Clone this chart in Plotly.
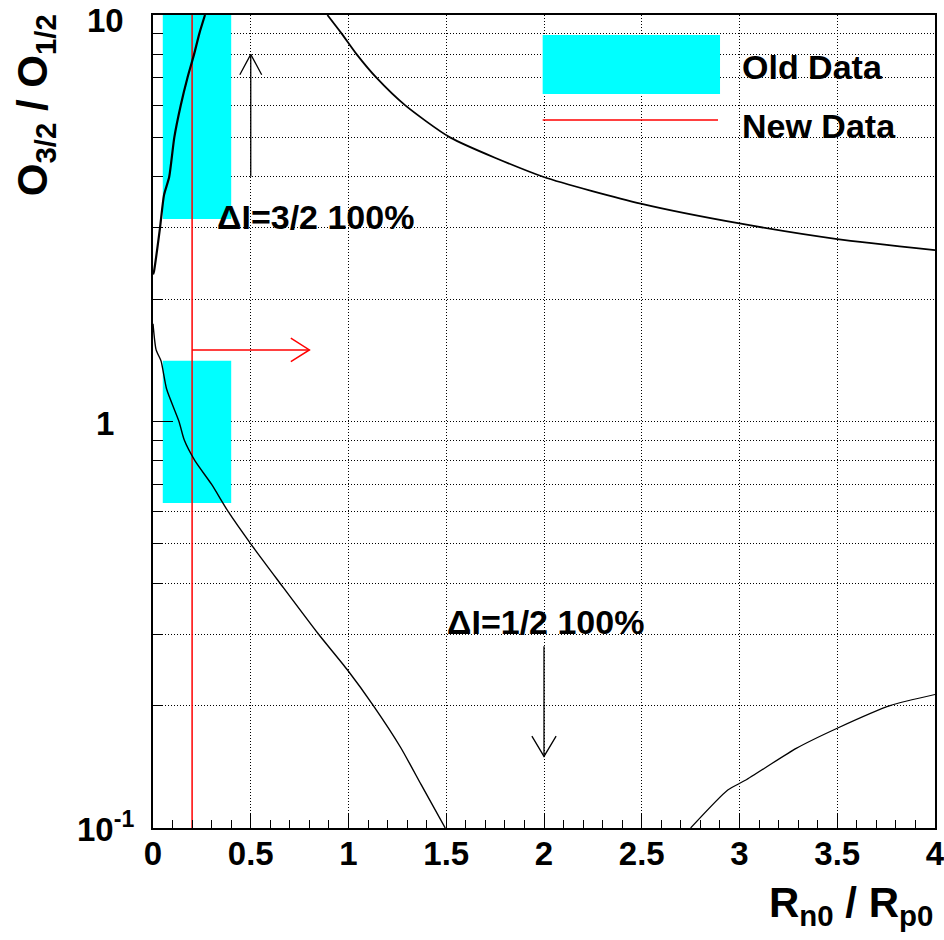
import numpy as np
import plotly.graph_objects as go

# ---------------- data ----------------
# upper-left branch of the curve
c1_x = [0.0, 0.005, 0.036, 0.056, 0.083, 0.109, 0.142, 0.176, 0.21, 0.237, 0.266]
c1_y = [2.3, 2.34, 3.0, 3.6, 4.0, 5.0, 6.0, 7.0, 8.0, 9.0, 10.0]
# upper-right branch
c2_x = [0.892, 0.965, 1.042, 1.144, 1.289, 1.519, 1.995, 2.5, 3.0, 3.5, 4.0]
c2_y = [10.0, 9.0, 8.0, 7.0, 6.0, 5.0, 4.0, 3.43, 3.07, 2.81, 2.64]
# lower-left branch
c3_x = [0.0, 0.016, 0.041, 0.07, 0.133, 0.16, 0.215, 0.30, 0.385, 0.5, 0.65,
        0.846, 0.994, 1.127, 1.266, 1.371, 1.495]
c3_y = [1.74, 1.5, 1.41, 1.2, 1.0, 0.9, 0.8, 0.7, 0.6, 0.5, 0.4,
        0.3, 0.245, 0.2, 0.158, 0.128, 0.1]
# lower-right branch
c4_x = [2.75, 2.94, 3.03, 3.29, 3.50, 3.77, 4.0]
c4_y = [0.1, 0.124, 0.131, 0.157, 0.176, 0.200, 0.213]

# old data boxes (x0, x1, y0, y1)
old_x0 = [0.05, 0.05]
old_x1 = [0.40, 0.40]
old_y0 = [3.15, 0.63]
old_y1 = [10.0, 1.41]

# new data: vertical line at x and lower-limit arrow
new_x = 0.2
new_y_range = [0.1, 10.0]
new_arrow_x = [0.2, 0.80]
new_arrow_y = 1.5

# Delta I arrows
arrow32_x = 0.5
arrow32_y = [4.0, 8.0]
arrow12_x = 2.0
arrow12_y = [0.28, 0.15]

x_ticks = [0, 0.5, 1, 1.5, 2, 2.5, 3, 3.5, 4]
x_ticktext = ["0", "0.5", "1", "1.5", "2", "2.5", "3", "3.5", "4"]
y_ticks = [0.1, 1, 10]
y_ticktext = ["10<sup>-1</sup>", "1", "10"]
y_minor = [0.2, 0.3, 0.4, 0.5, 0.6, 0.7, 0.8, 0.9, 2, 3, 4, 5, 6, 7, 8, 9]

FONT = "Liberation Sans"
CYAN = "#00FFFF"
RED = "#FF0000"
Y_LOG_RANGE = [-1, 1]
PLOT_H = 813  # px height of the plotting area

fig = go.Figure()

# old data boxes
for x0, x1, y0, y1 in zip(old_x0, old_x1, old_y0, old_y1):
    fig.add_trace(go.Scatter(x=[x0, x1, x1, x0, x0], y=[y0, y0, y1, y1, y0],
                             mode="lines", fill="toself", fillcolor=CYAN,
                             line=dict(color=CYAN, width=0), hoverinfo="skip",
                             showlegend=False))

# new data line + arrow
fig.add_trace(go.Scatter(x=[new_x, new_x], y=new_y_range, mode="lines",
                         line=dict(color=RED, width=1.5), showlegend=False))
hx = 0.095
hy = 10 ** 0.029
tip = new_arrow_x[1]
fig.add_trace(go.Scatter(
    x=[new_arrow_x[0], tip, None, tip - hx, tip, tip - hx],
    y=[new_arrow_y, new_arrow_y, None, new_arrow_y / hy, new_arrow_y, new_arrow_y * hy],
    mode="lines", line=dict(color=RED, width=1.5), showlegend=False))

# Delta I arrows
ax = 0.056
ay = 10 ** 0.05
t32 = arrow32_y[1]
fig.add_trace(go.Scatter(
    x=[arrow32_x, arrow32_x, None, arrow32_x - ax, arrow32_x, arrow32_x + ax],
    y=[arrow32_y[0], t32, None, t32 / ay, t32, t32 / ay],
    mode="lines", line=dict(color="black", width=1.3), showlegend=False))
t12 = arrow12_y[1]
fig.add_trace(go.Scatter(
    x=[arrow12_x, arrow12_x, None, arrow12_x - 0.062, arrow12_x, arrow12_x + 0.062],
    y=[arrow12_y[0], t12, None, t12 * ay, t12, t12 * ay],
    mode="lines", line=dict(color="black", width=1.3), showlegend=False))

# curves
for cx, cy, w in [(c1_x, c1_y, 2.2), (c2_x, c2_y, 1.8), (c3_x, c3_y, 1.4), (c4_x, c4_y, 1.2)]:
    fig.add_trace(go.Scatter(x=cx, y=cy, mode="lines",
                             line=dict(color="black", width=w, shape="spline", smoothing=0.6),
                             showlegend=False))

grid = dict(showgrid=True, gridcolor="black", gridwidth=1, griddash="1px,2px")

fig.update_layout(
    width=944, height=940,
    margin=dict(l=153, r=9, t=15, b=112, autoexpand=False),
    paper_bgcolor="white", plot_bgcolor="white",
    font=dict(family=FONT, color="black"),
    xaxis=dict(range=[0, 4], tickmode="array", tickvals=x_ticks, ticktext=x_ticktext,
               ticks="inside", ticklen=15, tickwidth=1.2, tickcolor="black",
               showline=True, linecolor="black", linewidth=1.5, mirror=True,
               zeroline=False, ticklabelstandoff=-4, automargin=False,
               ticklabeloverflow="allow",
               tickfont=dict(size=33, family=FONT, weight="bold"),
               minor=dict(dtick=0.1, tick0=0, ticks="inside", ticklen=8,
                          tickwidth=1.2, tickcolor="black", showgrid=False),
               **grid),
    yaxis=dict(type="log", range=Y_LOG_RANGE, tickmode="array", tickvals=y_ticks,
               ticktext=y_ticktext, showticklabels=False,
               ticks="inside", ticklen=20, tickwidth=1.2, tickcolor="black",
               showline=True, linecolor="black", linewidth=1.5, mirror=True,
               zeroline=False, automargin=False,
               minor=dict(tickmode="array", tickvals=y_minor, ticks="inside", ticklen=10,
                          tickwidth=1.2, tickcolor="black", **grid),
               **grid),
)

# y tick labels (centred, as in the reference), placed from the tick arrays
label_px_offset = {0.1: -22, 1: -2, 10: -5}   # pixel nudges (down = negative)
label_anchor = {0.1: "bottom", 1: "middle", 10: "middle"}
for v, t in zip(y_ticks, y_ticktext):
    frac = (np.log10(v) - Y_LOG_RANGE[0]) / (Y_LOG_RANGE[1] - Y_LOG_RANGE[0])
    fig.add_annotation(text=t, xref="paper", yref="paper", x=(105 - 153) / 782,
                       y=frac + label_px_offset[v] / PLOT_H,
                       xanchor="center", yanchor=label_anchor[v], showarrow=False,
                       font=dict(size=33, family=FONT, weight="bold"))

# axis titles
fig.add_annotation(text="O<sub>3/2</sub> / O<sub>1/2</sub>", textangle=-90,
                   xref="paper", yref="paper", x=-0.15, y=1.003,
                   xanchor="center", yanchor="top", showarrow=False,
                   font=dict(size=42, family=FONT, weight="bold"))
fig.add_annotation(text="R<sub>n0</sub> / R<sub>p0</sub>",
                   xref="paper", yref="paper", x=1.0, y=-0.095,
                   xanchor="right", yanchor="middle", showarrow=False,
                   font=dict(size=42, family=FONT, weight="bold"))

# Delta I labels
fig.add_annotation(text="ΔI=3/2 100%", x=0.317, y=np.log10(3.18), xref="x", yref="y",
                   xanchor="left", yanchor="middle", showarrow=False,
                   font=dict(size=34, family=FONT, weight="bold"))
fig.add_annotation(text="ΔI=1/2 100%", x=1.495, y=np.log10(0.321), xref="x", yref="y",
                   xanchor="left", yanchor="middle", showarrow=False,
                   font=dict(size=34, family=FONT, weight="bold"))

# manual legend
fig.add_shape(type="rect", xref="paper", yref="paper", x0=0.4983, x1=0.7251,
              y0=0.9028, y1=0.9754, fillcolor=CYAN, line=dict(width=0), layer="above")
fig.add_shape(type="line", xref="paper", yref="paper", x0=0.4983, x1=0.7225,
              y0=0.8708, y1=0.8708, line=dict(color=RED, width=1.5), layer="above")
fig.add_annotation(text="Old Data", xref="paper", yref="paper", x=0.7506, y=0.9364,
                   xanchor="left", yanchor="middle", showarrow=False,
                   font=dict(size=34, family=FONT, weight="bold"))
fig.add_annotation(text="New Data", xref="paper", yref="paper", x=0.7506, y=0.8635,
                   xanchor="left", yanchor="middle", showarrow=False,
                   font=dict(size=34, family=FONT, weight="bold"))

fig.write_html("out.html")
